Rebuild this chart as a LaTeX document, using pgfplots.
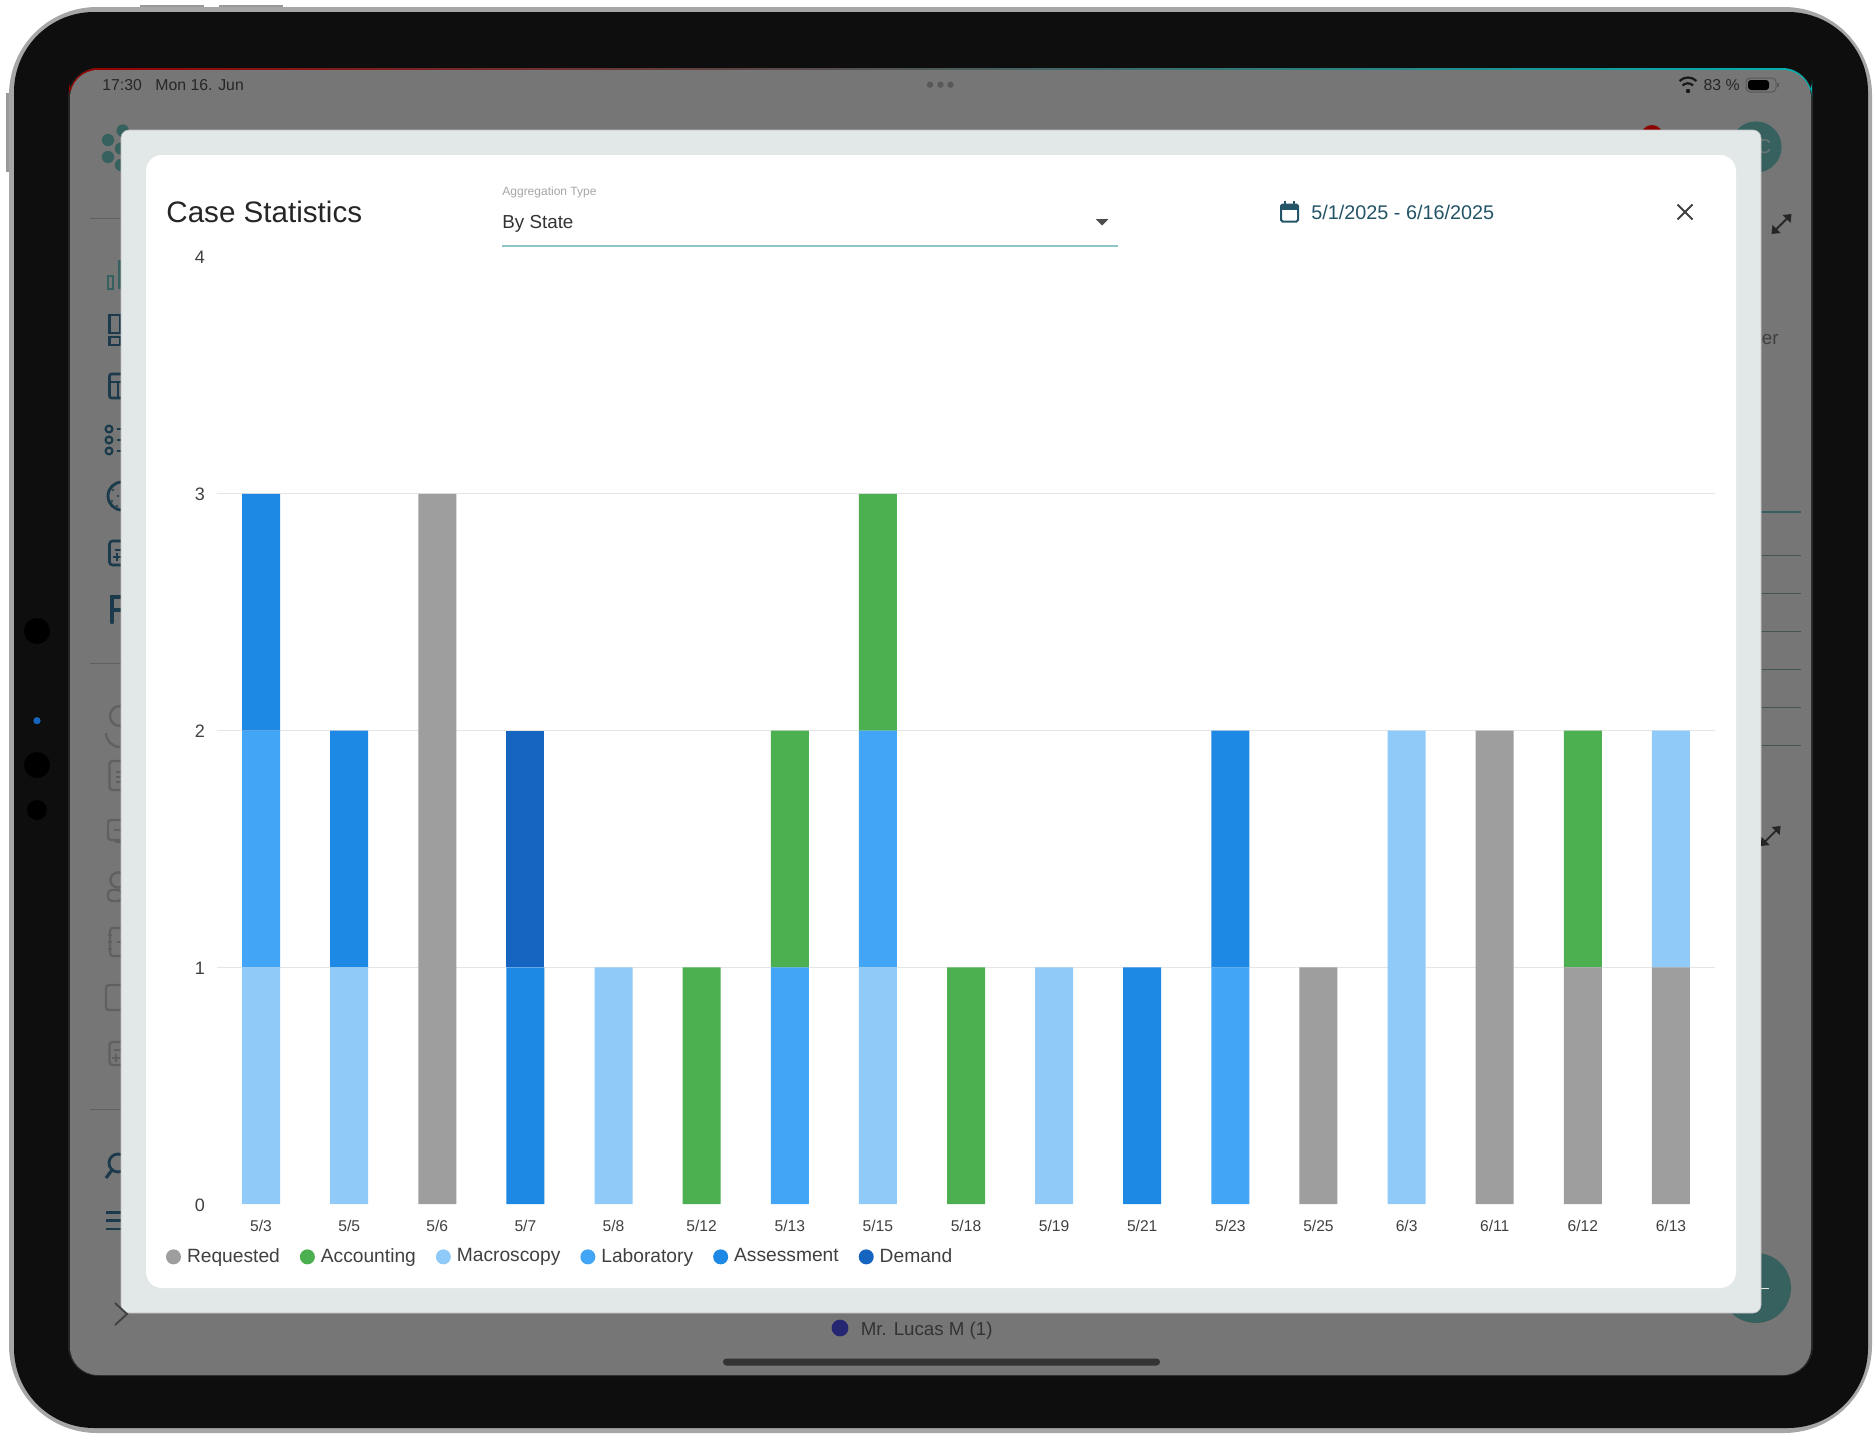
\documentclass[border=0pt]{standalone}
\usepackage{fontspec}
\setmainfont{Liberation Sans}
\usepackage{pgfplots}
\usepackage{pgfplotstable}
\pgfplotsset{compat=1.18}
\newcommand\fs[1]{\fontsize{#1pt}{#1pt}\selectfont}
\definecolor{cReq}{HTML}{9E9E9E}
\definecolor{cAcc}{HTML}{4CAF50}
\definecolor{cMac}{HTML}{90CAF9}
\definecolor{cLab}{HTML}{42A5F5}
\definecolor{cAss}{HTML}{1E88E5}
\definecolor{cDem}{HTML}{1565C0}
\definecolor{scr}{HTML}{757675}
\definecolor{blk}{HTML}{0E0E0E}
\definecolor{dlg}{HTML}{E2E8E8}
\definecolor{tealbg}{HTML}{37615F}
\definecolor{navy}{HTML}{1B3A4B}
\definecolor{gic}{HTML}{5F6160}
\definecolor{dateblue}{HTML}{235468}
\pgfplotstableread{
i Requested Macroscopy Laboratory Assessment Demand Accounting
0  0 1 1 1 0 0
1  0 1 0 1 0 0
2  3 0 0 0 0 0
3  0 0 0 1 1 0
4  0 1 0 0 0 0
5  0 0 0 0 0 1
6  0 0 1 0 0 1
7  0 1 1 0 0 1
8  0 0 0 0 0 1
9  0 1 0 0 0 0
10 0 0 0 1 0 0
11 0 0 1 1 0 0
12 1 0 0 0 0 0
13 0 2 0 0 0 0
14 2 0 0 0 0 0
15 1 0 0 0 0 1
16 1 1 0 0 0 0
}\casedata
\begin{document}
\begin{tikzpicture}
\begin{scope}[x=0.5pt,y=-0.5pt]
\path[use as bounding box,fill=white] (0,0) rectangle (1875,1440);
% device
\fill[gray!80] (140,5) rectangle (204,10);
\fill[gray!80] (219,5) rectangle (283,10);
\fill[gray!80] (6,93) rectangle (12,172);
\fill[black!35] (9,7) [rounded corners=44pt] rectangle (1872,1433);
\fill[blk] (14,12) [rounded corners=40pt] rectangle (1868,1428);
\fill[black!85] (68,68) [rounded corners=15pt] rectangle (1813,1376);
\shade[left color=red!60!black,middle color=black!40!purple!70,right color=teal!60!cyan,rounded corners=15pt] (69,68) rectangle (1812,110);
\fill[scr] (70,70) [rounded corners=14pt] rectangle (1811,1375);
% status bar
\node[anchor=west,inner sep=0pt,text=black!85] at (102,85) {\fs{7.9}17:30};
\node[anchor=west,inner sep=0pt,text=black!85] at (155,85) {\fs{7.9}Mon 16. Jun};
\node[anchor=east,inner sep=0pt,text=black!85] at (1740,85) {\fs{7.9}83 \%};
\foreach \cx in {930,940.5,950.5} \fill[black!65] (\cx,84.7) circle (1.6pt);
% wifi
\fill[black!90] (1688,91) circle (1.1pt);
\draw[black!90,line width=1.1pt] (1682.5,85.5) arc[start angle=225,end angle=315,radius=7.5];
\draw[black!90,line width=1.1pt] (1679.5,81) arc[start angle=225,end angle=315,radius=12];
% battery
\draw[black!65,line width=0.5pt,rounded corners=2pt] (1746,78) rectangle (1776,92);
\fill[black,rounded corners=1.5pt] (1748,80) rectangle (1769,90);
\fill[black!65] (1777,83) rectangle (1779,87);
% logo
\foreach \cx/\cy in {108/140,108/157,122.7/130.6,121/148.6,121/165}
  \fill[tealbg] (\cx,\cy) circle (3.1pt);
% sidebar dividers
\draw[gic,line width=0.5pt] (90,218.6) -- (125,218.6);
\draw[gic,line width=0.5pt] (90,663.7) -- (125,663.7);
\draw[gic,line width=0.5pt] (90,1109) -- (125,1109);
% sidebar icons
\draw[tealbg,line width=1.2pt] (108,276) rectangle (113,289);
\fill[tealbg] (118,260) rectangle (122,289);
\draw[navy,line width=1.3pt] (109.5,315) rectangle (120,333);
\draw[navy,line width=1.3pt] (109.5,337) rectangle (120,345);
\draw[navy,line width=1.3pt,rounded corners=1pt] (109.5,374) rectangle (132,398);
\draw[navy,line width=1.3pt] (109.5,382) -- (132,382);
\draw[navy,line width=1.3pt] (118,382) -- (118,398);
\foreach \cy in {429,440,451} {\draw[navy,line width=1.1pt] (109,\cy) circle (1.7pt); \draw[navy,line width=1.1pt] (117,\cy) -- (124,\cy);}
\draw[navy,line width=1.4pt] (122,496) circle (7pt);
\foreach \cx/\cy in {113/490,112/501,118/496,117/506} \fill[navy] (\cx,\cy) circle (0.6pt);
\draw[navy,line width=1.3pt,rounded corners=1.5pt] (109.5,541) rectangle (130,565);
\draw[navy,line width=1pt] (115,550) -- (122,550);
\draw[navy,line width=1pt] (113,557) -- (121,557) (117,553) -- (117,561);
\draw[navy,line width=2.2pt,line cap=round] (112,622) -- (112,597) -- (128,597);
\draw[navy,line width=2.2pt] (112,610) -- (128,610);
% grey icons
\draw[gic,line width=1.2pt] (120,716) circle (5pt);
\draw[gic,line width=1.2pt] (106,733) arc[start angle=180,end angle=90,radius=14];
\draw[gic,line width=1.2pt,rounded corners=1.5pt] (109.5,761) rectangle (130,790);
\draw[gic,line width=1pt] (116,772) -- (122,772) (116,777) -- (122,777) (116,782) -- (122,782);
\draw[gic,line width=1.2pt,rounded corners=1.5pt] (108,820) rectangle (130,840);
\fill[gic] (115,840) rectangle (125,843);
\draw[gic,line width=1pt] (114,830) -- (122,830);
\draw[gic,line width=1.2pt] (118,880) circle (3.8pt);
\draw[gic,line width=1.2pt,rounded corners=2pt] (108,901) -- (108,890) -- (122,890) -- (122,901) -- cycle;
\draw[gic,line width=1.2pt,rounded corners=1.5pt] (110,928) rectangle (130,956);
\draw[gic,line width=1pt] (108,935) -- (112,935) (108,942) -- (112,942) (108,949) -- (112,949);
\draw[gic,line width=1.2pt] (117,942) -- (124,942);
\draw[gic,line width=1.2pt,rounded corners=1.5pt] (106,985) rectangle (130,1010);
\draw[gic,line width=1.2pt,rounded corners=1.5pt] (109.5,1042) rectangle (130,1065);
\draw[gic,line width=1pt] (114,1050) -- (122,1050) (112,1058) -- (120,1058) (116,1054) -- (116,1062);
% search, menu
\draw[navy,line width=1.4pt] (118,1163) circle (4.5pt);
\draw[navy,line width=1.6pt] (112,1170) -- (106,1178);
\foreach \cy in {1212.5,1220.5,1229} \draw[navy,line width=1.3pt] (106,\cy) -- (125,\cy);
% right side background
\fill[tealbg] (1756,147) circle (12.8pt);
\fill[red!55!black] (1652,136) circle (5.5pt);
\node[text=gray!70!tealbg,inner sep=0pt] at (1764,147) {\fs{10}C};
\node[anchor=west,inner sep=0pt,text=black!75] at (1761.5,340) {\fs{9.4}er};
\draw[tealbg,line width=0.8pt] (1755,512) -- (1801,512);
\foreach \cy in {555,593,631,669,707,745} \draw[black!30!tealbg!70!gray,line width=0.4pt] (1755,\cy) -- (1801,\cy);
\fill[tealbg] (1756,1288) circle (17.5pt);
\draw[black!10!white,line width=0.5pt] (1755,1288) -- (1769,1288);
% bottom
\fill[blue!35!black!85] (840,1328) circle (4.2pt);
\node[anchor=west,inner sep=0pt,text=black!80] at (860.5,1331) {\fs{9.35}Mr. Lucas M (1)};
\fill[black!80,rounded corners=1.7pt] (723,1358.5) rectangle (1160,1365.5);
% dialog
\fill[dlg,draw=black!25,line width=0.3pt,rounded corners=4pt] (121,130) rectangle (1761,1313);
\fill[white,rounded corners=8pt] (146,155) rectangle (1736,1288);
\draw[black!75,line width=0.9pt] (115,1303) -- (127,1314) -- (115,1325);
% expand arrows over background, clipped by the dialog
\begin{scope}
\clip (1761,150) rectangle (1811,900);
\foreach \ax/\ay in {1781.5/224,1770.6/836} {
 \draw[black!85,line width=0.9pt] (\ax-8,\ay+8) -- (\ax+8,\ay-8);
 \fill[black!85] (\ax+10,\ay-10) -- (\ax+1,\ay-9) -- (\ax+9,\ay-1) -- cycle;
 \fill[black!85] (\ax-10,\ay+10) -- (\ax-1,\ay+9) -- (\ax-9,\ay+1) -- cycle;
}
\end{scope}
% header
\node[anchor=west,inner sep=0pt,text=black!85] at (166,212) {\fs{14.8}Case Statistics};
\node[anchor=west,inner sep=0pt,text=black!35] at (502,192.5) {\fs{6}Aggregation Type};
\node[anchor=west,inner sep=0pt,text=black!80] at (502,224) {\fs{9.4}By State};
\draw[teal!45!white,line width=0.7pt] (502,246) -- (1117.5,246);
\fill[black!70] (1095.5,219) -- (1108.5,219) -- (1102,225.5) -- cycle;
% calendar
\draw[dateblue,line width=1pt,rounded corners=0.8pt] (1281,204.5) rectangle (1298,221.5);
\fill[dateblue] (1281,204.5) rectangle (1298,209.5);
\draw[dateblue,line width=0.9pt] (1285,201) -- (1285,205) (1294,201) -- (1294,205);
\node[anchor=west,inner sep=0pt,text=dateblue] at (1311,212) {\fs{9.9}5/1/2025 - 6/16/2025};
\draw[black!75,line width=0.9pt] (1677.5,204.5) -- (1692.5,219.5) (1677.5,219.5) -- (1692.5,204.5);
% camera
\foreach \cy/\r in {631/6.5,765/6.5,810/5} \fill[black!100!blk] (37,\cy) circle (\r pt);
\fill[cDem] (37,720.7) circle (1.8pt);
\end{scope}
\begin{axis}[
  at={(108.5pt,-602pt)}, anchor=south west,
  scale only axis, width=749pt, height=473.5pt,
  xmin=-0.5, xmax=16.5, ymin=0, ymax=4,
  ybar stacked, bar width=19pt,
  axis line style={draw=none},
  major tick length=0pt,
  xtick={0,...,16},
  xticklabels={5/3,5/5,5/6,5/7,5/8,5/12,5/13,5/15,5/18,5/19,5/21,5/23,5/25,6/3,6/11,6/12,6/13},
  ytick={0,4},
  extra y ticks={1,2,3},
  extra tick style={grid=major,major tick length=0pt},
  grid style={draw=black!10,line width=0.6pt},
  /pgf/number format/assume math mode=true,
  x tick label style={font=\fs{7.8},text=black!75,inner sep=0pt,anchor=center,yshift=-11pt},
  y tick label style={font=\fs{9},text=black!75,inner sep=0pt,anchor=center,xshift=-8.5pt,yshift=-0.4pt},
  legend columns=6,
  legend cell align=left,
  legend image code/.code={\fill[#1,draw=none] (0pt,0pt) circle (3.75pt);},
  legend style={at={(rel axis cs:-0.0343,-0.0558)},anchor=west,draw=none,fill=none,inner sep=0pt,
    font=\fs{9.6},text=black!75,
    /tikz/every even column/.append style={column sep=10pt},
    /tikz/nodes={inner sep=0pt}},
]
\addplot[fill=cReq,draw=none,forget plot] table[x=i,y=Requested]{\casedata};
\addplot[fill=cMac,draw=none,forget plot] table[x=i,y=Macroscopy]{\casedata};
\addplot[fill=cLab,draw=none,forget plot] table[x=i,y=Laboratory]{\casedata};
\addplot[fill=cAss,draw=none,forget plot] table[x=i,y=Assessment]{\casedata};
\addplot[fill=cDem,draw=none,forget plot] table[x=i,y=Demand]{\casedata};
\addplot[fill=cAcc,draw=none,forget plot] table[x=i,y=Accounting]{\casedata};
\addlegendimage{fill=cReq}\addlegendentry{\hspace{3pt}\vphantom{Apg}Requested\hspace{-0.6pt}}
\addlegendimage{fill=cAcc}\addlegendentry{\hspace{3pt}\vphantom{Apg}Accounting\hspace{1.8pt}}
\addlegendimage{fill=cMac}\addlegendentry{\hspace{3pt}\vphantom{Apg}Macroscopy\hspace{-0.6pt}}
\addlegendimage{fill=cLab}\addlegendentry{\hspace{3pt}\vphantom{Apg}Laboratory\hspace{1.2pt}}
\addlegendimage{fill=cAss}\addlegendentry{\hspace{3pt}\vphantom{Apg}Assessment}
\addlegendimage{fill=cDem}\addlegendentry{\hspace{3pt}\vphantom{Apg}Demand}
\end{axis}
\end{tikzpicture}
\end{document}
